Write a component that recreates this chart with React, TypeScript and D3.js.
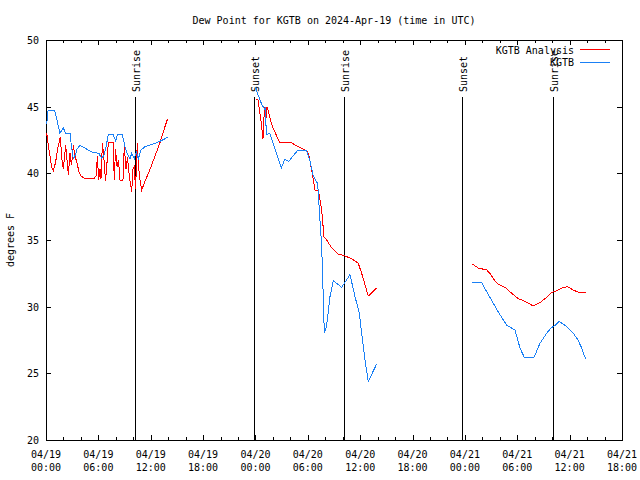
import React from 'react';
import * as d3 from 'd3';

const TITLE = 'Dew Point for KGTB on 2024-Apr-19 (time in UTC)';
const Y_LABEL = 'degrees F';

const yTicks = [20, 25, 30, 35, 40, 45, 50];
const xTickHours = [0, 6, 12, 18, 24, 30, 36, 42, 48, 54, 60, 66];
const xTickDates = ['04/19', '04/19', '04/19', '04/19', '04/20', '04/20', '04/20', '04/20', '04/21', '04/21', '04/21', '04/21'];
const xTickTimes = ['00:00', '06:00', '12:00', '18:00', '00:00', '06:00', '12:00', '18:00', '00:00', '06:00', '12:00', '18:00'];

const seriesNames = ['KGTB Analysis', 'KGTB'];
const seriesColors = ['#ff0000', '#1a80f5'];

// hours since 2024-04-19 00:00 UTC; NaN = gap in data
const analysisHours = [
  0.08, 0.34, 0.63, 0.84, 1.09, 1.38, 1.64, 1.83, 1.98, 2.26, 2.41, 2.56, 2.75, 2.92, 3.13, 3.32, 3.55, 3.78, 4.01, 4.47,
  5.04, 5.5, 5.73, 5.9, 6.02, 6.19, 6.3, 6.47, 6.65, 6.82, 6.99, 7.14, 7.68, 7.83, 7.96, 8.14, 8.31, 8.48, 8.82, 8.97,
  9.17, 9.34, 9.51, 9.68, 9.82, 9.97, 10.12, 10.26, 10.46, 10.6, 10.77, 10.97, 11.34, 11.92, 12.49, 13.06, 13.63, 13.94,
  NaN,
  24.0, 24.29, 24.67, 24.86, 25.04, 25.17, 25.32, 25.5, 25.82, 26.12, 26.78, 28.11, 28.88, 29.83, 30.08, 30.4, 30.63,
  30.82, 31.2, 31.59, 31.85, 32.16, 32.74, 33.49, 34.26, 35.03, 35.78, 36.17, 36.93, 37.89,
  NaN,
  48.85, 49.53, 50.5, 50.87, 51.25, 51.76, 52.59, 53.36, 54.12, 54.88, 55.84, 56.6, 57.18, 57.94, 58.52, 59.09, 59.78,
  60.42, 60.92, 61.84,
];
const analysisValues = [
  43.0, 41.8, 40.5, 40.2, 40.8, 42.0, 42.7, 41.0, 40.3, 42.1, 41.0, 39.9, 41.5, 40.6, 42.1, 41.3, 40.8, 40.1, 39.8, 39.6,
  39.6, 39.6, 39.8, 41.3, 39.5, 40.3, 39.6, 42.3, 41.0, 39.4, 40.8, 42.3, 42.3, 39.5, 41.8, 40.5, 41.0, 39.5, 39.5, 42.0,
  40.3, 41.2, 40.0, 39.2, 38.6, 40.3, 40.5, 38.8, 42.3, 40.5, 39.5, 38.75, 39.4, 40.3, 41.3, 42.3, 43.5, 44.1,
  NaN,
  45.6, 45.5, 43.75, 42.6, 45.0, 43.8, 45.0, 44.6, 43.75, 43.25, 42.3, 42.3, 42.0, 41.7, 41.5, 40.4, 39.5,
  38.75, 38.75, 37.25, 35.25, 35.0, 34.4, 33.95, 33.8, 33.6, 33.25, 32.5, 30.8, 31.4,
  NaN,
  33.2, 32.9, 32.75, 32.5, 32.1, 31.7, 31.45, 31.0, 30.6, 30.4, 30.05, 30.3, 30.6, 31.05, 31.2, 31.4, 31.5,
  31.25, 31.1, 31.1,
];

const obsHours = [
  0.08, 0.23, 1.0, 1.26, 1.6, 1.98, 2.26, 2.75, 2.92, 3.13, 3.38, 3.55, 3.9, 4.7, 5.27, 6.07, 6.38, 6.65, 6.88, 7.14,
  7.71, 7.99, 8.17, 8.74, 9.05, 9.36, 9.63, 9.82, 10.12, 10.35, 10.58, 10.89, 11.34, 12.49, 13.06, 13.94,
  NaN,
  24.0, 24.29, 24.67, 25.04, 25.15, 25.24, 25.63, 26.21, 26.96, 27.35, 27.81, 28.88, 29.83, 30.22, 30.59, 30.97, 31.13,
  31.4, 31.59, 31.77, 31.89, 32.16, 32.54, 32.92, 33.88, 34.83, 35.41, 35.9, 36.17, 36.55, 36.93, 37.89,
  NaN,
  48.85, 49.92, 50.68, 51.83, 52.79, 53.74, 54.31, 54.8, 55.92, 56.6, 57.37, 57.86, 58.32, 58.81, 59.47, 59.85, 60.42,
  60.92, 61.38, 61.84,
];
const obsValues = [
  43.7, 44.7, 44.7, 44.0, 43.0, 43.4, 43.0, 43.0, 42.0, 41.1, 41.4, 41.8, 42.1, 41.8, 41.6, 41.5, 41.1, 41.4, 42.0, 42.9,
  42.9, 42.4, 42.9, 42.9, 42.0, 41.4, 41.1, 41.5, 41.1, 41.6, 41.1, 41.75, 42.0, 42.25, 42.4, 42.7,
  NaN,
  46.5, 45.9, 45.25, 44.8, 45.0, 42.9, 43.0, 41.9, 40.4, 41.05, 40.9, 41.75, 41.75, 41.0, 39.9, 39.4, 39.25,
  36.4, 34.5, 30.75, 28.0, 28.6, 30.75, 31.95, 31.45, 32.4, 30.75, 29.5, 28.0, 26.0, 24.4, 25.7,
  NaN,
  31.8, 31.8, 30.9, 29.6, 28.6, 28.25, 26.9, 26.2, 26.2, 27.25, 28.0, 28.4, 28.6, 28.9, 28.6, 28.4, 28.0,
  27.55, 26.9, 26.05,
];

const sunEventHours = [10.2, 23.83, 34.15, 47.67, 58.1];
const sunEventLabels = ['Sunrise', 'Sunset', 'Sunrise', 'Sunset', 'Sunrise'];
const sunLineTop = 45.7;

const W = 640;
const H = 480;
const FONT = '"DejaVu Sans Mono", "Liberation Mono", monospace';

export default function App() {
  const x = d3.scaleLinear().domain([0, 66]).range([46, 622]);
  const y = d3.scaleLinear().domain([20, 50]).range([440, 40]);
  const minorHours = d3.range(0, 67, 2);

  const makeLine = (hours: number[], vals: number[]) => {
    const pts = hours.map((h, i) => [h, vals[i]] as [number, number]);
    return d3
      .line<[number, number]>()
      .defined((d) => !isNaN(d[0]) && !isNaN(d[1]))
      .x((d) => x(d[0]))
      .y((d) => y(d[1]))(pts) as string;
  };

  const [x0, x1] = x.range();
  const [yb, yt] = y.range();

  return (
    <svg
      width={W}
      height={H}
      style={{ position: 'absolute', left: 0, top: 0, background: '#fff' }}
      fontFamily={FONT}
      fontSize={10}
    >
      <rect x={0} y={0} width={W} height={H} fill="#fff" />
      <text x={(x0 + x1) / 2} y={24} textAnchor="middle" fill="#000">
        {TITLE}
      </text>
      <text transform={`translate(14,${(yb + yt) / 2}) rotate(-90)`} textAnchor="middle" fill="#000">
        {Y_LABEL}
      </text>

      <g shapeRendering="crispEdges" stroke="#000" strokeWidth={1}>
        {minorHours.map((h) => {
          const major = h % 6 === 0;
          const len = major ? 5 : 3;
          const px = Math.round(x(h)) + 0.5;
          return (
            <g key={'xt' + h}>
              <line x1={px} x2={px} y1={yb} y2={yb - len} />
              <line x1={px} x2={px} y1={yt} y2={yt + len} />
            </g>
          );
        })}
        {yTicks.map((v) => {
          const py = Math.round(y(v)) + 0.5;
          return (
            <g key={'yt' + v}>
              <line x1={x0} x2={x0 + 5} y1={py} y2={py} />
              <line x1={x1} x2={x1 - 5} y1={py} y2={py} />
            </g>
          );
        })}
        <rect x={x0 + 0.5} y={yt + 0.5} width={x1 - x0} height={yb - yt} fill="none" />
      </g>

      {yTicks.map((v) => (
        <text key={'yl' + v} x={39} y={y(v) + 4} textAnchor="end" fill="#000">
          {v}
        </text>
      ))}
      {xTickHours.map((h, i) => (
        <g key={'xl' + h}>
          <text x={x(h)} y={458} textAnchor="middle" fill="#000">
            {xTickDates[i]}
          </text>
          <text x={x(h)} y={471} textAnchor="middle" fill="#000">
            {xTickTimes[i]}
          </text>
        </g>
      ))}

      {sunEventHours.map((h, i) => {
        const px = Math.round(x(h)) + 0.5;
        return (
          <g key={'sun' + i}>
            <line x1={px} x2={px} y1={y(sunLineTop)} y2={yb} stroke="#000" strokeWidth={1} shapeRendering="crispEdges" />
            <text transform={`translate(${px + 4},92) rotate(-90)`} textAnchor="start" fill="#000">
              {sunEventLabels[i]}
            </text>
          </g>
        );
      })}

      <path d={makeLine(analysisHours, analysisValues)} fill="none" stroke={seriesColors[0]} strokeWidth={1} shapeRendering="crispEdges" />
      <path d={makeLine(obsHours, obsValues)} fill="none" stroke={seriesColors[1]} strokeWidth={1} shapeRendering="crispEdges" />

      {seriesNames.map((name, i) => (
        <g key={'lg' + i}>
          <text x={574} y={54 + i * 12} textAnchor="end" fill="#000">
            {name}
          </text>
          <line x1={580} x2={610} y1={49.5 + i * 12.5} y2={49.5 + i * 12.5} stroke={seriesColors[i]} strokeWidth={1} shapeRendering="crispEdges" />
        </g>
      ))}
    </svg>
  );
}
